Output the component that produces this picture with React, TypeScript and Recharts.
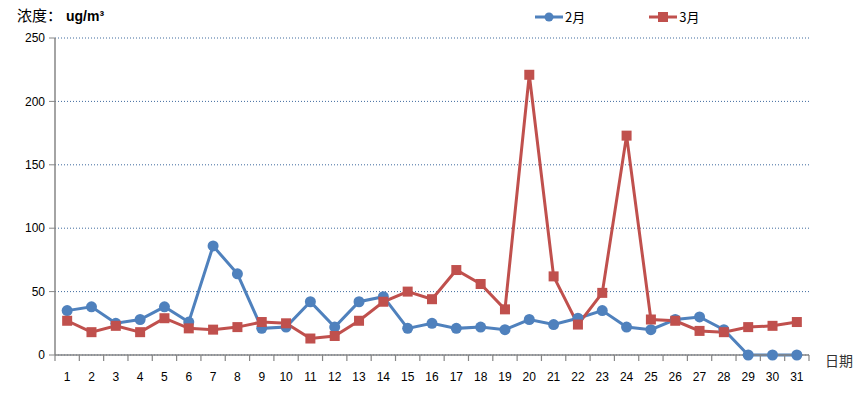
import React from "react";
import { LineChart, Line, XAxis, YAxis, CartesianGrid } from "recharts";

const days: number[] = Array.from({ length: 31 }, (_, i) => i + 1);
const feb: number[] = [35, 38, 25, 28, 38, 26, 86, 64, 21, 22, 42, 22, 42, 46, 21, 25, 21, 22, 20, 28, 24, 29, 35, 22, 20, 28, 30, 20, 0, 0, 0];
const mar: number[] = [27, 18, 23, 18, 29, 21, 20, 22, 26, 25, 13, 15, 27, 42, 50, 44, 67, 56, 36, 221, 62, 24, 49, 173, 28, 27, 19, 18, 22, 23, 26];
const yTicks: number[] = [0, 50, 100, 150, 200, 250];

const BLUE = "#4F81BD";
const RED = "#C0504D";
const AXIS = "#868686";

const CHART_W = 862;
const CHART_H = 394;
const MARGIN = { top: 38, right: 53, left: 0, bottom: 9 };
const Y_W = 55;
const HALF_STEP = (CHART_W - MARGIN.left - MARGIN.right - Y_W) / days.length / 2;

const data = days.map((d, i) => ({ day: d, feb: feb[i], mar: mar[i] }));

const numFont = "'Liberation Sans', Arial, sans-serif";
const cjkFont = "'Noto Sans CJK SC', sans-serif";

const SquareDot = (props: any) => {
  const { cx, cy } = props;
  if (cx == null || cy == null) return null;
  return <rect x={cx - 5} y={cy - 5} width={10} height={10} fill={RED} />;
};

const DayTick = (props: any) => {
  const { x, payload, index, visibleTicksCount } = props;
  const axisY = CHART_H - MARGIN.bottom - 30;
  const isLast = index === (visibleTicksCount ?? days.length) - 1;
  return (
    <g>
      <line x1={x - HALF_STEP} y1={axisY} x2={x - HALF_STEP} y2={axisY + 6} stroke={AXIS} strokeWidth={1.2} />
      {isLast && (
        <line x1={x + HALF_STEP} y1={axisY} x2={x + HALF_STEP} y2={axisY + 6} stroke={AXIS} strokeWidth={1.2} />
      )}
      <text x={x} y={axisY + 26} textAnchor="middle" fontSize={12} fontFamily={numFont} fill="#000">
        {payload.value}
      </text>
    </g>
  );
};

export default function App() {
  return (
    <div style={{ position: "absolute", left: 0, top: 0, width: CHART_W, height: CHART_H, background: "#fff" }}>
      <LineChart width={CHART_W} height={CHART_H} data={data} margin={MARGIN}>
        <CartesianGrid vertical={false} stroke="#3f6a9e" strokeDasharray="1 2" />
        <XAxis
          dataKey="day"
          type="number"
          domain={[0.5, 31.5]}
          ticks={days}
          interval={0}
          tickLine={false}
          axisLine={{ stroke: AXIS, strokeWidth: 1.5 }}
          height={30}
          tick={<DayTick />}
        />
        <YAxis
          type="number"
          domain={[0, 250]}
          ticks={yTicks}
          width={Y_W}
          tickSize={6}
          tickLine={{ stroke: AXIS }}
          axisLine={{ stroke: AXIS, strokeWidth: 1.5 }}
          tick={{ fill: "#000", fontSize: 12, fontFamily: numFont }}
          dx={-2}
        />
        <Line
          dataKey="feb"
          stroke={BLUE}
          strokeWidth={3}
          dot={{ r: 5.5, fill: BLUE, stroke: BLUE, strokeWidth: 0 }}
          isAnimationActive={false}
        />
        <Line
          dataKey="mar"
          stroke={RED}
          strokeWidth={3}
          dot={<SquareDot />}
          isAnimationActive={false}
        />
      </LineChart>
      <div style={{ position: "absolute", left: 17, top: 4, fontSize: 15, fontFamily: cjkFont, color: "#000", whiteSpace: "nowrap" }}>
        浓度：<span style={{ marginLeft: 4, fontFamily: numFont, fontWeight: "bold", fontSize: 14 }}>ug/m³</span>
      </div>
      <div style={{ position: "absolute", left: 825, top: 350, fontSize: 14, fontFamily: cjkFont, color: "#333", whiteSpace: "nowrap" }}>
        日期
      </div>
      <div style={{ position: "absolute", left: 535, top: 7, display: "flex", alignItems: "center", fontSize: 13, fontFamily: cjkFont, whiteSpace: "nowrap" }}>
        <svg width={28} height={16}>
          <line x1={0} y1={8} x2={28} y2={8} stroke={BLUE} strokeWidth={3} />
          <circle cx={14} cy={8} r={4.5} fill={BLUE} />
        </svg>
        <span style={{ marginLeft: 2, marginRight: 64 }}>2月</span>
        <svg width={28} height={16}>
          <line x1={0} y1={8} x2={28} y2={8} stroke={RED} strokeWidth={3} />
          <rect x={9} y={3} width={10} height={10} fill={RED} />
        </svg>
        <span style={{ marginLeft: 2 }}>3月</span>
      </div>
    </div>
  );
}
